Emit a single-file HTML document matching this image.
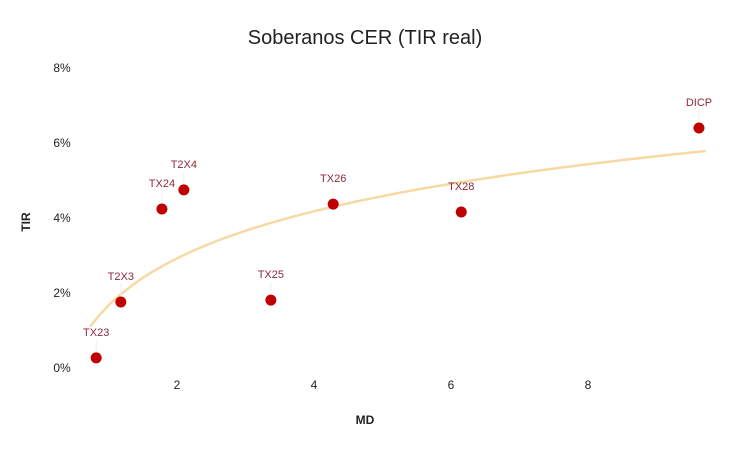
<!DOCTYPE html>
<html><head><meta charset="utf-8"><style>
html,body{margin:0;padding:0;background:#fff;}
svg{display:block;font-family:"Liberation Sans",sans-serif;}
</style></head><body>
<svg id="chart" width="730" height="451" viewBox="0 0 730 451">
<text x="365" y="44" text-anchor="middle" font-size="20" fill="#222">Soberanos CER (TIR real)</text>
<text x="30" y="222" text-anchor="middle" font-size="12" font-weight="bold" fill="#222" transform="rotate(-90 30 222)">TIR</text>
<text x="365" y="424" text-anchor="middle" font-size="12" font-weight="bold" fill="#222">MD</text>
<g id="yticks"></g><g id="xticks"></g><g id="trend"></g><g id="points"></g>
</svg>
<script>
const names=["TX23","T2X3","TX24","T2X4","TX25","TX26","TX28","DICP"];
const mdValues=[0.82,1.18,1.78,2.10,3.37,4.28,6.15,9.62];
const tirValues=[0.27,1.76,4.24,4.75,1.81,4.37,4.16,6.40];
const xTicks=[2,4,6,8];
const yTicks=[0,2,4,6,8];
const trendCoef=[1.67,1.81];
const trendRange=[0.73,9.72];
const NS="http://www.w3.org/2000/svg";
const sx=v=>40+v*68.5;
const sy=v=>368-v*37.5;
function mk(tag,attrs,parent){const e=document.createElementNS(NS,tag);for(const k in attrs)e.setAttribute(k,attrs[k]);parent.appendChild(e);return e;}
const yg=document.getElementById('yticks');
yTicks.forEach(t=>{const e=mk('text',{x:62,y:sy(t)+4,'text-anchor':'middle','font-size':12,fill:'#222'},yg);e.textContent=t+'%';

});
const xg=document.getElementById('xticks');
xTicks.forEach(t=>{const e=mk('text',{x:sx(t),y:389,'text-anchor':'middle','font-size':12,fill:'#222'},xg);e.textContent=t;

});
const tg=document.getElementById('trend');
let d='';for(let i=0;i<=60;i++){const m=trendRange[0]+(trendRange[1]-trendRange[0])*i/60;const v=trendCoef[0]+trendCoef[1]*Math.log(m);d+=(i?'L':'M')+sx(m).toFixed(1)+','+sy(v).toFixed(1);}
const tl=mk('path',{d:d,fill:'none',stroke:'#f7d9a4','stroke-width':2.5},tg);


const pg=document.getElementById('points');
names.forEach((n,i)=>{const x=sx(mdValues[i]),y=sy(tirValues[i]);
const ln=mk('line',{x1:x,y1:y-6,x2:x,y2:y-18,stroke:'#eee','stroke-width':1},pg);


const c=mk('circle',{cx:x,cy:y,r:5.5,fill:'#c00000'},pg);


const t=mk('text',{x:x,y:y-22,'text-anchor':'middle','font-size':11,fill:'#8b2a3a'},pg);t.textContent=n;

});
</script>
</body></html>
